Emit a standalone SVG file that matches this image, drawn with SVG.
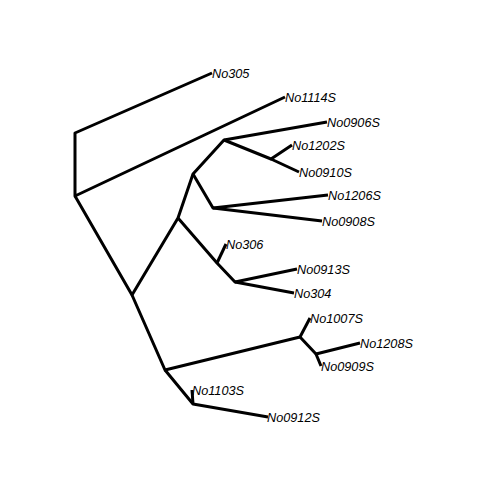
<svg xmlns="http://www.w3.org/2000/svg" width="504" height="504" viewBox="0 0 504 504">
<style>
.e{fill:none;stroke:#000;stroke-width:3;stroke-linejoin:round;stroke-linecap:butt}
.t{font-family:"Liberation Sans",Arial,sans-serif;font-style:italic;font-size:12.7px;fill:#000}
</style>
<rect width="504" height="504" fill="#fff"/>
<g id="connectors">
<polyline class="e" points="212,73 75,133 75,196 285,97"/>
<polyline class="e" points="75,196 132,295 178,218 193,174 224,140 327,122"/>
<polyline class="e" points="224,140 271,159 292,145"/>
<line class="e" x1="271" y1="159" x2="299" y2="172"/>
<polyline class="e" points="193,174 213,208 328,195"/>
<line class="e" x1="213" y1="208" x2="322" y2="221"/>
<polyline class="e" points="178,218 217,263 235,282 297,269"/>
<line class="e" x1="217" y1="263" x2="226" y2="244"/>
<line class="e" x1="235" y1="282" x2="294" y2="293"/>
<polyline class="e" points="132,295 165,370 300,337 310,318"/>
<polyline class="e" points="300,337 316,354 360,343"/>
<line class="e" x1="316" y1="354" x2="321" y2="366"/>
<polyline class="e" points="165,370 193,404 268,417"/>
<line class="e" x1="193" y1="404" x2="192" y2="390"/>
</g>
<g id="No305"><text class="t" x="212" y="78">No305</text></g>
<g id="No1114S"><text class="t" x="285" y="102">No1114S</text></g>
<g id="No0906S"><text class="t" x="327" y="127">No0906S</text></g>
<g id="No1202S"><text class="t" x="292" y="150">No1202S</text></g>
<g id="No0910S"><text class="t" x="299" y="177">No0910S</text></g>
<g id="No1206S"><text class="t" x="328" y="200">No1206S</text></g>
<g id="No0908S"><text class="t" x="322" y="226">No0908S</text></g>
<g id="No306"><text class="t" x="226" y="249">No306</text></g>
<g id="No0913S"><text class="t" x="297" y="274">No0913S</text></g>
<g id="No304"><text class="t" x="294" y="298">No304</text></g>
<g id="No1007S"><text class="t" x="310" y="323">No1007S</text></g>
<g id="No1208S"><text class="t" x="360" y="348">No1208S</text></g>
<g id="No0909S"><text class="t" x="321" y="371">No0909S</text></g>
<g id="No1103S"><text class="t" x="192" y="395">No1103S</text></g>
<g id="No0912S"><text class="t" x="267" y="422">No0912S</text></g>
</svg>
